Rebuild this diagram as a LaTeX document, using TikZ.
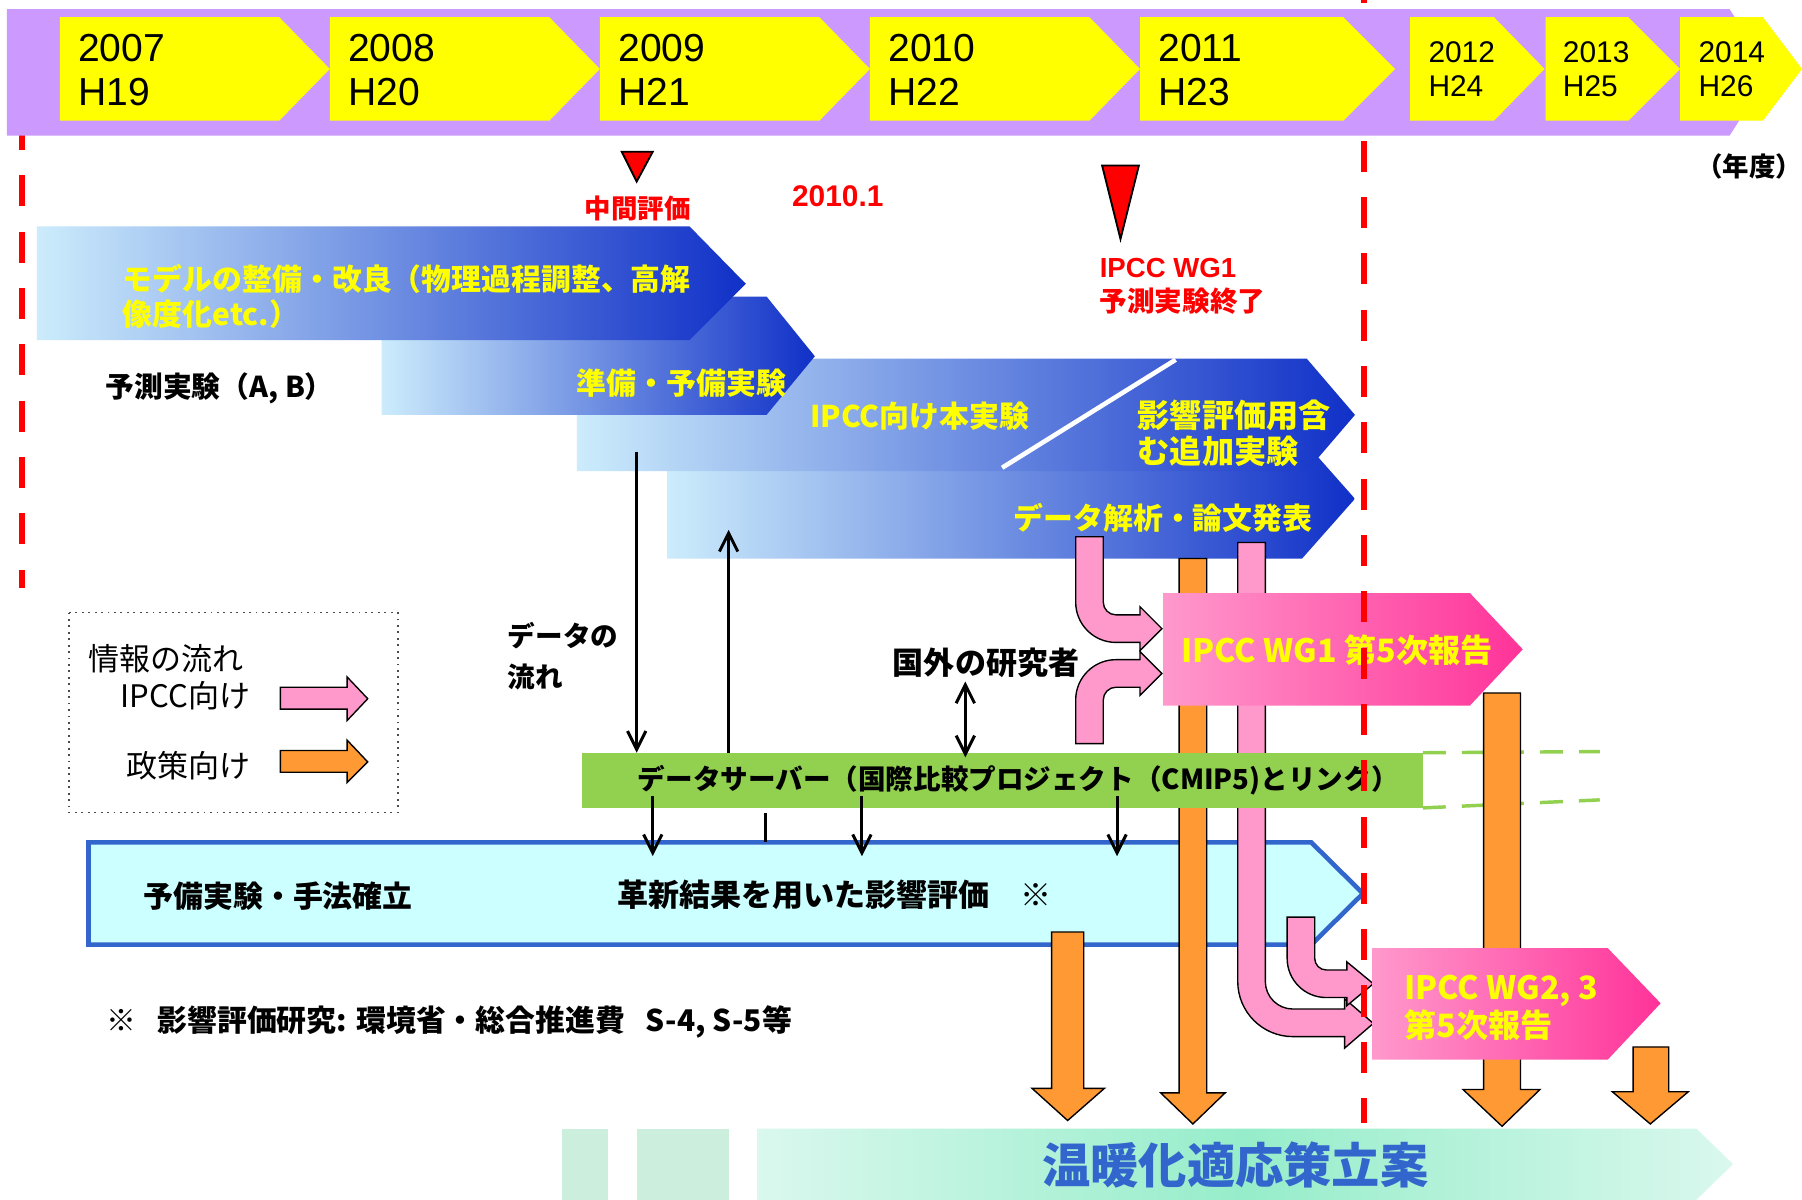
\documentclass[tikz,border=0pt]{standalone}
\usepackage{fontspec}
\setmainfont{Liberation Sans}
\newfontfamily\jp{Noto Sans CJK JP}
\usetikzlibrary{arrows.meta}
\definecolor{purp}{HTML}{CC99FF}
\definecolor{yel}{HTML}{FFFF00}
\definecolor{lblue}{HTML}{CCECFC}
\definecolor{dblue}{HTML}{1030C8}
\definecolor{pinkL}{HTML}{FF99CC}
\definecolor{pinkD}{HTML}{FF3399}
\definecolor{grn}{HTML}{92D050}
\definecolor{cyanbox}{HTML}{CCFFFF}
\definecolor{boxblue}{HTML}{3366CC}
\definecolor{orng}{HTML}{FF9933}
\definecolor{mint}{HTML}{CCEEDD}
\definecolor{mintL}{HTML}{DAF8EE}
\definecolor{mintM}{HTML}{96EDCA}
\definecolor{txtblue}{HTML}{3366CC}
\begin{document}
\begin{tikzpicture}[x=0.5pt,y=-0.5pt,
  every node/.style={inner sep=0pt, outer sep=0pt},
  yr/.style={anchor=west, align=left, font=\fontsize{17}{19}\selectfont},
  yrs/.style={anchor=west, align=left, font=\fontsize{13}{15}\selectfont},
  ylab/.style={anchor=west, align=left, text=yel, font=\jp\bfseries\fontsize{13}{15.5}\selectfont},
  blab/.style={anchor=west, align=left, text=black, font=\jp\bfseries\fontsize{12.5}{17.5}\selectfont},
  leg/.style={anchor=west, font=\jp\fontsize{13.5}{16}\selectfont},
  arr/.style={-{Straight Barb[length=8pt,width=8pt]}, line width=1.3pt},
  blk/.style={draw=black, line width=0.6pt},
  redtri/.style={fill=red, draw=black, line width=0.8pt},
  bluearrow/.style={left color=lblue, right color=dblue},
  pinkbox/.style={left color=pinkL, right color=pinkD},
  redline/.style={red, line width=2.5pt, dash pattern=on 13.5pt off 11pt}
]
\useasboundingbox (0,0) rectangle (1568,1044);
\fill[white] (0,0) rectangle (1568,1044);

% left red dashed line
\draw[redline] (19,103.6) -- (19,512);

% timeline band
\fill[purp] (6,8) -- (1505,8) -- (1540,63) -- (1505,118) -- (6,118) -- cycle;
\fill[yel] (52,15) -- (243,15) -- (287,60) -- (243,105) -- (52,105) -- cycle;
\fill[yel] (287,15) -- (478,15) -- (522,60) -- (478,105) -- (287,105) -- cycle;
\fill[yel] (522,15) -- (713,15) -- (757,60) -- (713,105) -- (522,105) -- cycle;
\fill[yel] (757,15) -- (948,15) -- (992,60) -- (948,105) -- (757,105) -- cycle;
\fill[yel] (992,15) -- (1169,15) -- (1214,60) -- (1169,105) -- (992,105) -- cycle;
\fill[yel] (1227,15) -- (1300,15) -- (1344,60) -- (1300,105) -- (1227,105) -- cycle;
\fill[yel] (1345,15) -- (1417,15) -- (1462,60) -- (1417,105) -- (1345,105) -- cycle;
\fill[yel] (1462,15) -- (1534,15) -- (1568,60) -- (1534,105) -- (1462,105) -- cycle;
\node[yr] (y07) at (68,61) {2007\\H19};
\node[yr] (y08) at (303,61) {2008\\H20};
\node[yr] (y09) at (538,61) {2009\\H21};
\node[yr] (y10) at (773,61) {2010\\H22};
\node[yr] (y11) at (1008,61) {2011\\H23};
\node[yrs] (y12) at (1243,60) {2012\\H24};
\node[yrs] (y13) at (1360,60) {2013\\H25};
\node[yrs] (y14) at (1478,60) {2014\\H26};
\node[font=\jp\bfseries\fontsize{11.5}{14}\selectfont] (nendo) at (1522,145) {（年度）};

% milestones
\draw[redtri] (541,132) -- (568,132) -- (554,158) -- cycle;
\draw[redtri] (959,144) -- (991,144) -- (975,208) -- cycle;
\node[text=red, font=\jp\bfseries\fontsize{11.5}{14}\selectfont] (mid) at (555,181) {中間評価};
\node[text=red, font=\bfseries\fontsize{13}{15}\selectfont] (d2010) at (729,171) {2010.1};
\node[text=red, anchor=west, align=left, font=\bfseries\fontsize{12}{15}\selectfont] (wgend) at (957,249) {IPCC WG1\\{\jp 予測実験終了}};

% blue arrows (back to front)
\path[bluearrow] (581,382) -- (1133,382) -- (1179,434) -- (1133,486) -- (581,486) -- cycle;
\path[bluearrow] (502,312) -- (1137,312) -- (1179,361) -- (1137,410) -- (502,410) -- cycle;
\path[bluearrow] (332,258) -- (667,258) -- (709,310) -- (667,361) -- (332,361) -- cycle;
\path[bluearrow] (32,197) -- (600,197) -- (649,247) -- (600,296) -- (32,296) -- cycle;
\draw[white, line width=2pt] (872,407) -- (1023,313);
\node[ylab] (t1) at (107,258) {モデルの整備・改良（物理過程調整、高解\\像度化etc.）};
\node[ylab] (t2) at (502,333) {準備・予備実験};
\node[ylab] (t3) at (705,362) {IPCC向け本実験};
\node[ylab, font=\jp\bfseries\fontsize{14}{16}\selectfont] (t3b) at (990,377) {影響評価用含\\む追加実験};
\node[ylab] (t4) at (882,451) {データ解析・論文発表};
\node[blab] (pj) at (92,338) {予測実験（A, B）};

% cyan box
\draw[boxblue, fill=cyanbox, line width=2pt] (77,733) -- (1141,733) -- (1186,777.5) -- (1141,822) -- (77,822) -- cycle;
\node[blab, font=\jp\bfseries\fontsize{13}{15}\selectfont] (pre) at (125,780) {予備実験・手法確立};
\node[blab, font=\jp\bfseries\fontsize{13.5}{15}\selectfont] (inn) at (537,779) {革新結果を用いた影響評価　※};

% bars and pink arrows
\draw[blk, fill=orng] (1026,486) -- (1050,486) -- (1050,951) -- (1066,951) -- (1038,978) -- (1010,951) -- (1026,951) -- cycle;
\draw[blk, fill=pinkL] (1077,472) -- (1101,472) -- (1101,854) arc[start angle=180, end angle=90, radius=24] -- (1170,878) -- (1170,869) -- (1195,890.5) -- (1170,912) -- (1170,902) -- (1125,902) arc[start angle=90, end angle=180, radius=48] -- cycle;
\draw[blk, fill=pinkL] (936,467) -- (960,467) -- (960,524) arc[start angle=180, end angle=90, radius=11] -- (992,535) -- (992,528) -- (1011,547) -- (992,566) -- (992,559) -- (971,559) arc[start angle=90, end angle=180, radius=35] -- cycle;
\draw[blk, fill=pinkL] (936,647) -- (960,647) -- (960,609) arc[start angle=180, end angle=270, radius=11] -- (992,598) -- (992,605) -- (1011,586) -- (992,567) -- (992,574) -- (971,574) arc[start angle=270, end angle=180, radius=35] -- cycle;
\draw[blk, fill=pinkL] (1120,798) -- (1144,798) -- (1144,834) arc[start angle=180, end angle=90, radius=10] -- (1172,844) -- (1172,837) -- (1195,856) -- (1172,875) -- (1172,868) -- (1154,868) arc[start angle=90, end angle=180, radius=34] -- cycle;
\draw[blk, fill=orng] (915,811) -- (943,811) -- (943,947) -- (961,947) -- (929,975) -- (898,947) -- (915,947) -- cycle;

% data server
\node[fill=grn, minimum width=366pt, minimum height=24pt] (srv) at (872,679) {};
\node[font=\jp\bfseries\fontsize{12}{14}\selectfont] (srvt) at (886,679) {データサーバー（国際比較プロジェクト（CMIP5)とリンク）};
\coordinate (dashN) at (1392,654);
\coordinate (dashS) at (1392,696);
\draw[grn, line width=1.5pt, dash pattern=on 10pt off 7pt] (srv.north east) -- (dashN);
\draw[grn, line width=1.5pt, dash pattern=on 10pt off 7pt] (srv.south east) -- (dashS);

% black connectors
\node[blab, font=\jp\bfseries\fontsize{12}{17.5}\selectfont] (flow) at (442,571) {データの\\流れ};
\node[blab, font=\jp\bfseries\fontsize{13.5}{16}\selectfont] (ext) at (777,577) {国外の研究者};
\coordinate (d1) at (554,393);
\coordinate (u1) at (634,461);
\coordinate (x1) at (840,593);
\draw[arr] (d1) -- (d1 |- srv.north);
\draw[arr] (u1 |- srv.north) -- (u1);
\draw[arr, {Straight Barb[length=8pt,width=8pt]}-{Straight Barb[length=8pt,width=8pt]}] (x1) -- ([yshift=-2pt]x1 |- srv.north);
\coordinate (bb) at (0,745);
\coordinate (g1) at (568,693);
\coordinate (g2) at (750,693);
\coordinate (g3) at (972,693);
\draw[arr] (g1) -- (g1 |- bb);
\draw[arr] (g2) -- (g2 |- bb);
\draw[arr] (g3) -- (g3 |- bb);
\coordinate (tk) at (666,707);
\draw[line width=1.5pt] (tk) -- (666,733);

% IPCC reports
\path[pinkbox] (1012,516) -- (1279,516) -- (1325,565) -- (1279,614) -- (1012,614) -- cycle;
\node[ylab, font=\jp\bfseries\fontsize{14}{16}\selectfont] (wg1) at (1028,566) {IPCC WG1 第5次報告};
\draw[blk, fill=orng] (1291,603) -- (1323,603) -- (1323,948) -- (1340,948) -- (1307,980) -- (1273,948) -- (1291,948) -- cycle;
\path[pinkbox] (1194,825) -- (1399,825) -- (1445,873) -- (1399,922) -- (1194,922) -- cycle;
\node[ylab, font=\jp\bfseries\fontsize{14}{16.5}\selectfont] (wg23) at (1222,877) {IPCC WG2, 3\\第5次報告};
\draw[blk, fill=orng] (1421,911) -- (1452,911) -- (1452,950) -- (1469,950) -- (1436,978) -- (1403,950) -- (1421,950) -- cycle;

% legend
\draw[black!70, dotted, line width=0.8pt] (60,533) rectangle (346,707);
\node[leg] (lg1) at (77,573) {情報の流れ};
\node[leg] (lg2) at (105,605) {IPCC向け};
\node[leg] (lg3) at (110,666) {政策向け};
\draw[blk, fill=pinkL] (244,598) -- (302,598) -- (302,589) -- (320,608) -- (302,627) -- (302,617) -- (244,617) -- cycle;
\draw[blk, fill=orng] (244,653) -- (302,653) -- (302,644) -- (320,663) -- (302,681) -- (302,672) -- (244,672) -- cycle;

% footnote
\node[blab, font=\jp\bfseries\fontsize{13}{15}\selectfont] (fn) at (93,889) {※\hspace{9pt}影響評価研究: 環境省・総合推進費\hspace{9pt}S-4, S-5等};

% bottom band
\fill[mint] (489,982) rectangle (529,1044);
\fill[mint] (554,982) rectangle (634,1044);
\path[left color=mintL, right color=mintL, middle color=mintM] (659,982) -- (1476,982) -- (1508,1013) -- (1476,1044) -- (659,1044) -- cycle;
\node[text=txtblue, font=\jp\bfseries\fontsize{21}{24}\selectfont] (plan) at (1075,1014) {温暖化適応策立案};

% right red dashed line
\begin{scope}
\clip (0,-60) rectangle (1568,8) (0,118) rectangle (1568,1044);
\draw[redline] (1187,-24.5) -- (1187,977);
\end{scope}
\end{tikzpicture}
\end{document}
